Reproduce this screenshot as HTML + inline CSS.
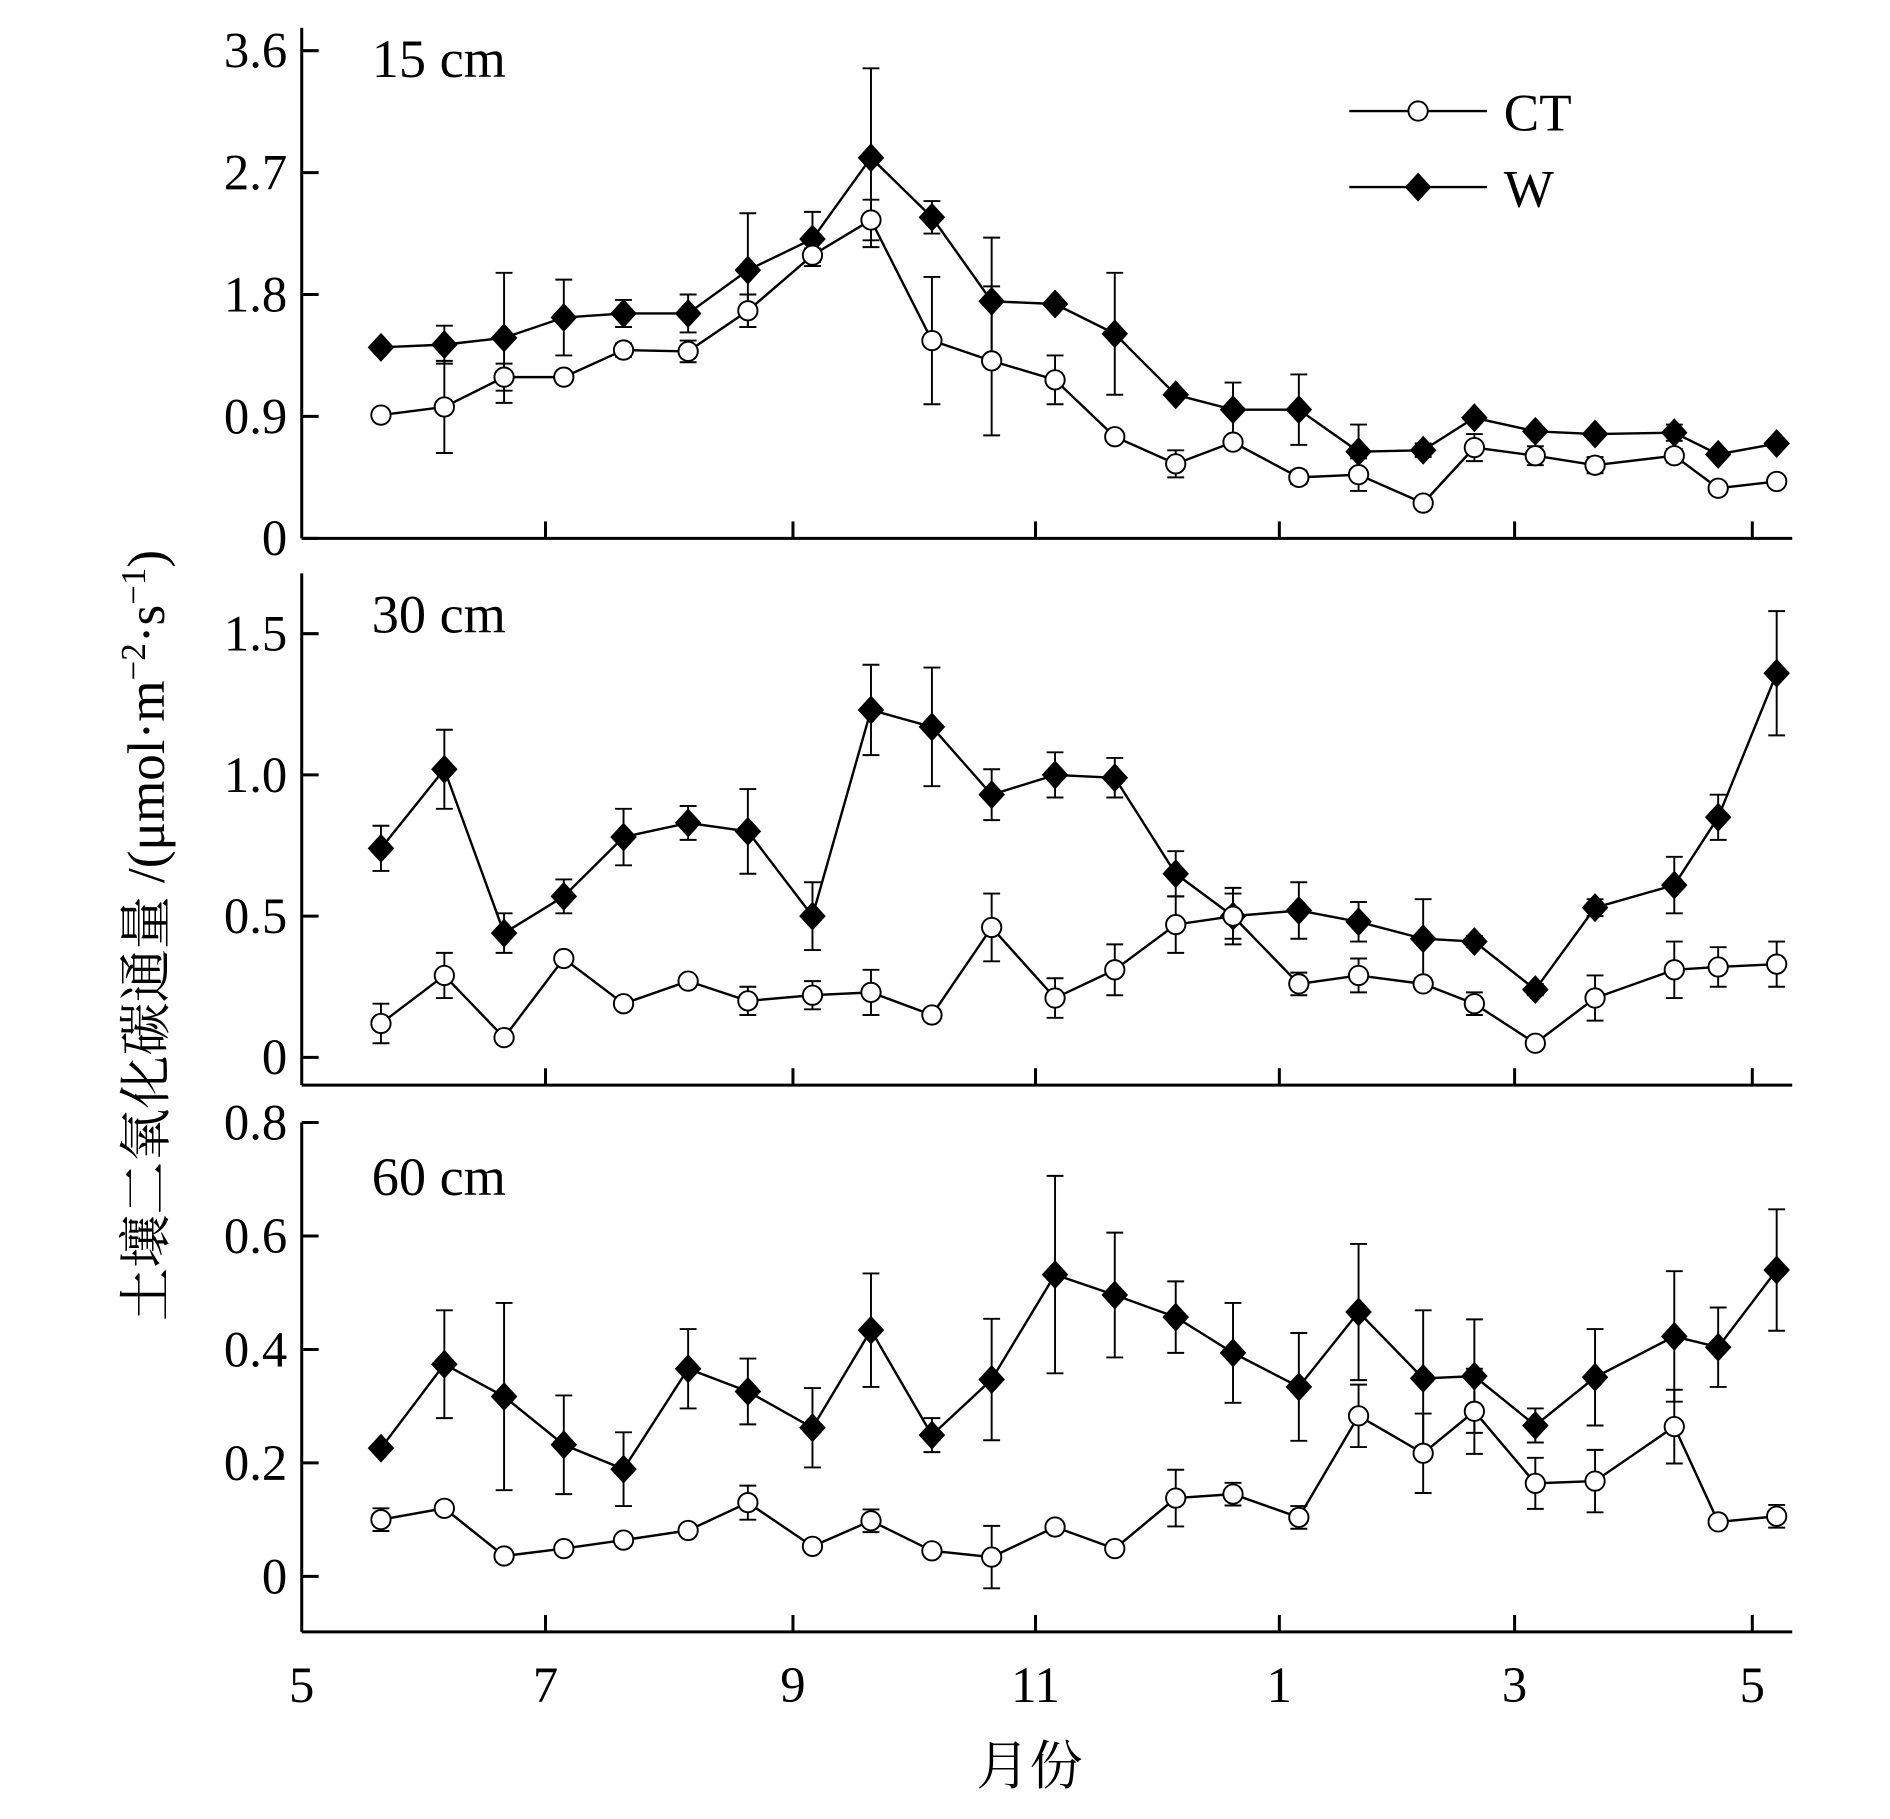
<!DOCTYPE html>
<html><head><meta charset="utf-8">
<style>
html,body{margin:0;padding:0;background:#fff;}
svg{display:block;}
text{font-family:"Liberation Serif","Noto Serif CJK SC",serif;fill:#000;}
</style></head>
<body>
<svg id="chart" width="1890" height="1819" viewBox="0 0 1566 1507" preserveAspectRatio="none" xmlns="http://www.w3.org/2000/svg">
<g id="root"></g>
</svg>
<script>
// Month positions (months since start, 0 = May)
const monthPos = [0.65,1.17,1.66,2.15,2.64,3.17,3.66,4.19,4.67,5.17,5.66,6.18,6.67,7.17,7.64,8.18,8.67,9.2,9.62,10.12,10.61,11.26,11.62,12.1];
const xTickLabels = ["5","7","9","11","1","3","5"];
const xTickPos = [0,2,4.03,6.02,8.02,9.95,11.9];

const ct15 = [0.91,0.97,1.19,1.19,1.39,1.38,1.68,2.09,2.35,1.46,1.31,1.17,0.75,0.55,0.71,0.45,0.47,0.26,0.67,0.61,0.54,0.61,0.37,0.42];
const ct15Err = [0.03,0.34,0.1,0.03,0.05,0.08,0.12,0.05,0.15,0.47,0.55,0.18,0.03,0.1,0.03,0.05,0.12,0.03,0.1,0.07,0.06,0.05,0.03,0.03];
const w15 = [1.41,1.43,1.48,1.63,1.66,1.66,1.98,2.21,2.81,2.37,1.75,1.73,1.51,1.06,0.95,0.95,0.64,0.65,0.89,0.79,0.77,0.78,0.62,0.70];
const w15Err = [0.02,0.14,0.48,0.28,0.1,0.14,0.42,0.2,0.66,0.12,0.47,0.03,0.45,0.03,0.2,0.26,0.2,0.05,0.03,0.03,0.03,0.06,0.03,0.03];

const ct30 = [0.12,0.29,0.07,0.35,0.19,0.27,0.2,0.22,0.23,0.15,0.46,0.21,0.31,0.47,0.5,0.26,0.29,0.26,0.19,0.05,0.21,0.31,0.32,0.33];
const ct30Err = [0.07,0.08,0.02,0.02,0.02,0.02,0.05,0.05,0.08,0.02,0.12,0.07,0.09,0.1,0.08,0.04,0.06,0.02,0.04,0.02,0.08,0.1,0.07,0.08];
const w30 = [0.74,1.02,0.44,0.57,0.78,0.83,0.8,0.5,1.23,1.17,0.93,1.0,0.99,0.65,0.5,0.52,0.48,0.42,0.41,0.24,0.53,0.61,0.85,1.36];
const w30Err = [0.08,0.14,0.07,0.06,0.1,0.06,0.15,0.12,0.16,0.21,0.09,0.08,0.07,0.08,0.1,0.1,0.07,0.14,0.02,0.02,0.03,0.1,0.08,0.22];

const ct60 = [0.10,0.12,0.036,0.049,0.064,0.081,0.13,0.053,0.098,0.045,0.034,0.087,0.049,0.138,0.145,0.104,0.283,0.217,0.291,0.164,0.168,0.264,0.096,0.106];
const ct60Err = [0.02,0.01,0.01,0.01,0.01,0.01,0.03,0.01,0.02,0.01,0.055,0.01,0.01,0.05,0.02,0.02,0.055,0.07,0.075,0.045,0.055,0.065,0.01,0.02];
const w60 = [0.226,0.374,0.317,0.232,0.189,0.366,0.326,0.262,0.434,0.249,0.347,0.532,0.496,0.457,0.394,0.334,0.466,0.349,0.353,0.266,0.351,0.423,0.404,0.54];
const w60Err = [0.005,0.095,0.165,0.087,0.065,0.07,0.058,0.07,0.1,0.03,0.107,0.174,0.11,0.063,0.088,0.095,0.12,0.12,0.1,0.03,0.085,0.115,0.07,0.107];

const ticks15 = [0,0.9,1.8,2.7,3.6];
const tickLabels15 = ["0","0.9","1.8","2.7","3.6"];
const ticks30 = [0,0.5,1.0,1.5];
const tickLabels30 = ["0","0.5","1.0","1.5"];
const ticks60 = [0,0.2,0.4,0.6,0.8];
const tickLabels60 = ["0","0.2","0.4","0.6","0.8"];

const NS = "http://www.w3.org/2000/svg";
const root = document.getElementById('root');
const X0 = 250, X1 = 1485, PX = 101;
function xs(m){ return X0 + m*PX; }
function mk(tag, attrs, parent){
  const e = document.createElementNS(NS, tag);
  for (const k in attrs) e.setAttribute(k, attrs[k]);
  (parent||root).appendChild(e);
  return e;
}

const panels = [
  {label:"15 cm", top:23, bottom:446, v0y:446, vpp:101/0.9, ticks:ticks15, tl:tickLabels15, ct:ct15, ctE:ct15Err, w:w15, wE:w15Err, ly:64, name:"panel-15cm"},
  {label:"30 cm", top:475, bottom:899, v0y:876, vpp:234, ticks:ticks30, tl:tickLabels30, ct:ct30, ctE:ct30Err, w:w30, wE:w30Err, ly:524, name:"panel-30cm"},
  {label:"60 cm", top:930, bottom:1352, v0y:1306, vpp:470, ticks:ticks60, tl:tickLabels60, ct:ct60, ctE:ct60Err, w:w60, wE:w60Err, ly:990, name:"panel-60cm"}
];

panels.forEach((p, pi) => {
  const g = mk('g', {});
  
  
  const ys = v => p.v0y - v*p.vpp;
  const ax = mk('line', {x1:X0,y1:p.top,x2:X0,y2:p.bottom,stroke:'#000','stroke-width':2.5}, g);
  
  
  const bx = mk('line', {x1:X0,y1:p.bottom,x2:X1,y2:p.bottom,stroke:'#000','stroke-width':2.5}, g);
  
  
  p.ticks.forEach((t, i) => {
    const y = ys(t);
    mk('line', {x1:X0,y1:y,x2:X0+14,y2:y,stroke:'#000','stroke-width':2.5}, g);
    const tx = mk('text', {x:238,y:y+14,'text-anchor':'end','font-size':42}, g);
    tx.textContent = p.tl[i];
    
    
  });
  xTickPos.forEach(m => {
    if (m === 0) return;
    mk('line', {x1:xs(m),y1:p.bottom,x2:xs(m),y2:p.bottom-14,stroke:'#000','stroke-width':2.5}, g);
  });
  const lab = mk('text', {x:308,y:p.ly,'font-size':45}, g);
  lab.textContent = p.label;
  
  

  [['w', p.w, p.wE], ['ct', p.ct, p.ctE]].forEach(([kind, vals, errs]) => {
    const sg = mk('g', {}, g);
    
    
    vals.forEach((v, i) => {
      const x = xs(monthPos[i]), yt = ys(v+errs[i]), yb = ys(v-errs[i]);
      mk('line', {x1:x,y1:yt,x2:x,y2:yb,stroke:'#000','stroke-width':1.6}, sg);
      mk('line', {x1:x-7,y1:yt,x2:x+7,y2:yt,stroke:'#000','stroke-width':1.6}, sg);
      mk('line', {x1:x-7,y1:yb,x2:x+7,y2:yb,stroke:'#000','stroke-width':1.6}, sg);
    });
    const pts = vals.map((v,i) => xs(monthPos[i]) + ',' + ys(v)).join(' ');
    const pl = mk('polyline', {points:pts,fill:'none',stroke:'#000','stroke-width':2}, sg);
    
    
    vals.forEach((v, i) => {
      const x = xs(monthPos[i]), y = ys(v);
      let m;
      if (kind === 'w') {
        m = mk('polygon', {points:`${x},${y-12} ${x+11},${y} ${x},${y+12} ${x-11},${y}`, fill:'#000'}, sg);
      } else {
        m = mk('circle', {cx:x, cy:y, r:8, fill:'#fff', stroke:'#000', 'stroke-width':1.6}, sg);
      }
      
      
    });
  });
});

xTickPos.forEach((m, i) => {
  const t = mk('text', {x:xs(m), y:1410, 'text-anchor':'middle', 'font-size':42});
  t.textContent = xTickLabels[i];
  
  
});
const xt = mk('text', {x:853, y:1478, 'text-anchor':'middle', 'font-size':44});
xt.textContent = '月份';



const yt = mk('text', {x:0, y:0, 'text-anchor':'middle', 'font-size':44, transform:'translate(136,775) rotate(-90)'});
yt.innerHTML = '土壤二氧化碳通量 /(μmol·m<tspan dy="-16" font-size="29">−2</tspan><tspan dy="16">·s</tspan><tspan dy="-16" font-size="29">−1</tspan><tspan dy="16">)</tspan>';



const lg = mk('g', {});


const l1 = mk('g', {}, lg);


mk('line', {x1:1118,y1:92,x2:1232,y2:92,stroke:'#000','stroke-width':2}, l1);
mk('circle', {cx:1175,cy:92,r:8,fill:'#fff',stroke:'#000','stroke-width':1.6}, l1);
const t1 = mk('text', {x:1246,y:108,'font-size':44}, l1); t1.textContent = 'CT';
const l2 = mk('g', {}, lg);


mk('line', {x1:1118,y1:155,x2:1232,y2:155,stroke:'#000','stroke-width':2}, l2);
mk('polygon', {points:'1175,143 1186,155 1175,167 1164,155',fill:'#000'}, l2);
const t2 = mk('text', {x:1246,y:171,'font-size':44}, l2); t2.textContent = 'W';
</script>
</body></html>
